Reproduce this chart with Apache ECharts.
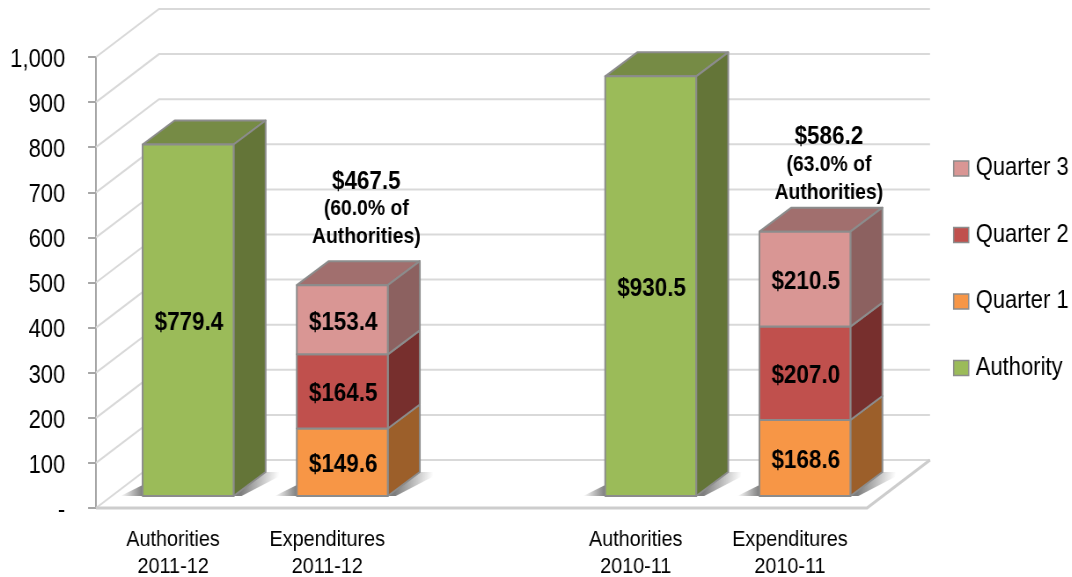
<!DOCTYPE html>
<html>
<head>
<meta charset="utf-8">
<style>
html, body { margin: 0; padding: 0; background: #fff; overflow: hidden; }
/* no narrow font here, so the whole chart is drawn wider and squeezed to 1072 */
#chart { width: 1218px; height: 577px; transform: scaleX(0.88); transform-origin: 0 0; }
</style>
<script src="https://cdn.jsdelivr.net/npm/echarts@6/dist/echarts.min.js"></script>
</head>
<body>
<div id="chart"></div>
<script>
// slot 2 is the empty gap between the two fiscal years
var categories = ['Authorities\n2011-12', 'Expenditures\n2011-12', '', 'Authorities\n2010-11', 'Expenditures\n2010-11'];
var yTicks = [0, 100, 200, 300, 400, 500, 600, 700, 800, 900, 1000];

var authority = [779.4, null, null, 930.5, null];
var quarter1 = [null, 149.6, null, null, 168.6];
var quarter2 = [null, 164.5, null, null, 207.0];
var quarter3 = [null, 153.4, null, null, 210.5];

var expenditureSlots = [1, 4];
var expenditureTotals = ['$467.5', '$586.2'];
var expenditureShares = ['(60.0% of', '(63.0% of'];
var totalLabelLift = [34, 25];

var SX = 0.88; // same squeeze as the css
var FONT = '"Liberation Sans", Arial, sans-serif';
var BAR_WIDTH = 91 / SX;
var WALL_DX = 63 / SX, WALL_DY = -48;   // front of the floor to the back wall
var BAR_DX = 15 / SX, BAR_DY = -12;     // front of the floor to the front of a bar
var DEPTH_DX = 32 / SX, DEPTH_DY = -24; // depth of a bar
var EDGE = '#8c8c8c';

function poly(points, fill, stroke, lineWidth) {
	return {
		type: 'polygon',
		shape: { points: points },
		style: { fill: fill, stroke: stroke || null, lineWidth: lineWidth || 0, lineJoin: 'round' }
	};
}

function fade(x, y, x2, y2) {
	return {
		type: 'linear', x: x, y: y, x2: x2, y2: y2,
		colorStops: [{ offset: 0, color: 'rgba(70,70,70,0.7)' }, { offset: 1, color: 'rgba(70,70,70,0)' }]
	};
}

function barSeries(name, values, bases, colors) {
	var rows = [];
	values.forEach(function (v, i) {
		if (v !== null) rows.push([i, bases[i], bases[i] + v]);
	});
	return {
		name: name,
		type: 'custom',
		coordinateSystem: 'cartesian2d',
		itemStyle: { color: colors.front },
		data: rows,
		encode: { x: 0, y: 2 },
		silent: true,
		z: 3,
		renderItem: function (params, api) {
			var cat = api.value(0);
			var low = api.coord([cat, api.value(1)]);
			var high = api.coord([cat, api.value(2)]);
			var x0 = low[0] - BAR_WIDTH / 2 + BAR_DX, x1 = x0 + BAR_WIDTH;
			var y0 = low[1] + BAR_DY, y1 = high[1] + BAR_DY;
			var amount = '$' + (api.value(2) - api.value(1)).toFixed(1);
			return {
				type: 'group',
				children: [
					poly([[x0, y1], [x1, y1], [x1 + DEPTH_DX, y1 + DEPTH_DY], [x0 + DEPTH_DX, y1 + DEPTH_DY]], colors.top, EDGE, 2),
					poly([[x1, y0], [x1 + DEPTH_DX, y0 + DEPTH_DY], [x1 + DEPTH_DX, y1 + DEPTH_DY], [x1, y1]], colors.side, EDGE, 2),
					poly([[x0, y0], [x1, y0], [x1, y1], [x0, y1]], colors.front, EDGE, 2),
					{
						type: 'text',
						style: {
							text: amount, x: (x0 + x1) / 2 + 1, y: (y0 + y1) / 2 + 3,
							align: 'center', verticalAlign: 'middle',
							font: 'bold 25.5px ' + FONT, fill: '#000'
						}
					}
				]
			};
		}
	};
}

var bases1 = [0, 0, 0, 0, 0];
var bases2 = quarter1.map(function (v) { return v || 0; });
var bases3 = quarter2.map(function (v, i) { return (v || 0) + bases2[i]; });

var wallSeries = {
	type: 'custom',
	coordinateSystem: 'cartesian2d',
	data: yTicks.map(function (t) { return [0, t]; }),
	encode: { x: 0, y: 1 },
	silent: true,
	z: 1,
	renderItem: function (params, api) {
		var cs = params.coordSys;
		var y = api.coord([0, api.value(1)])[1];
		var left = cs.x, right = cs.x + cs.width;
		var children = [{
			type: 'polyline',
			shape: { points: [[left, y], [left + WALL_DX, y + WALL_DY], [right + WALL_DX, y + WALL_DY]] },
			style: { fill: null, stroke: '#d9d9d9', lineWidth: 2 }
		}];
		if (api.value(1) === 0) {
			children.push({
				type: 'polyline',
				shape: { points: [[left, y], [right, y], [right + WALL_DX, y + WALL_DY]] },
				style: { fill: null, stroke: '#cdcdcd', lineWidth: 3 }
			});
		}
		return { type: 'group', children: children };
	}
};

// soft shadow on the floor, one wing each side of a bar
var shadowSeries = {
	type: 'custom',
	coordinateSystem: 'cartesian2d',
	data: [[0, 0], [1, 0], [3, 0], [4, 0]],
	encode: { x: 0, y: 1 },
	silent: true,
	z: 2,
	renderItem: function (params, api) {
		var p = api.coord([api.value(0), 0]);
		var x0 = p[0] - BAR_WIDTH / 2 + BAR_DX, x1 = x0 + BAR_WIDTH, y0 = p[1] + BAR_DY;
		var reach = 22 / SX;
		return {
			type: 'group',
			children: [
				poly([[x0 - reach, y0], [x0, y0], [x0, y0 - 11]], fade(1, 0, 0, 0)),
				poly([[x1, y0], [x1 + DEPTH_DX, y0 + DEPTH_DY], [x1 + DEPTH_DX + reach, y0 + DEPTH_DY], [x1 + 8 / SX, y0]], fade(0.15, 0.5, 0.8, 0.75))
			]
		};
	}
};

var totalSeries = {
	type: 'custom',
	coordinateSystem: 'cartesian2d',
	data: expenditureSlots.map(function (slot, i) {
		return [slot, quarter1[slot] + quarter2[slot] + quarter3[slot], i];
	}),
	encode: { x: 0, y: 1 },
	silent: true,
	z: 5,
	renderItem: function (params, api) {
		var i = api.value(2);
		var p = api.coord([api.value(0), api.value(1)]);
		return {
			type: 'text',
			style: {
				text: '{a|' + expenditureTotals[i] + '}\n{b|' + expenditureShares[i] + '}\n{b|Authorities)}',
				x: p[0] + BAR_DX + 24 / SX,
				y: p[1] + BAR_DY - totalLabelLift[i],
				align: 'center',
				verticalAlign: 'bottom',
				fill: '#000',
				rich: {
					a: { font: 'bold 25.5px ' + FONT, lineHeight: 27, align: 'center' },
					b: { font: 'bold 22px ' + FONT, lineHeight: 28, align: 'center' }
				}
			}
		};
	}
};

var chart = echarts.init(document.getElementById('chart'), null, { renderer: 'canvas' });
chart.setOption({
	animation: false,
	backgroundColor: '#ffffff',
	grid: { left: 96 / SX, width: 771 / SX, top: 57, bottom: 69, containLabel: false, outerBoundsMode: 'none' },
	legend: {
		orient: 'vertical',
		left: 953 / SX,
		top: 156,
		padding: 0,
		itemWidth: 15 / SX,
		itemHeight: 15,
		itemGap: 41.5,
		icon: 'rect',
		selectedMode: false,
		itemStyle: { borderColor: EDGE, borderWidth: 1.5 },
		textStyle: { fontFamily: FONT, fontSize: 25, color: '#000', padding: [0, 0, 0, 3] },
		data: ['Quarter 3', 'Quarter 2', 'Quarter 1', 'Authority']
	},
	xAxis: {
		type: 'category',
		data: categories,
		axisLine: { show: false },
		axisTick: { show: false },
		axisLabel: {
			interval: 0,
			margin: 18,
			fontFamily: FONT,
			fontSize: 22.5,
			lineHeight: 27,
			color: '#000'
		}
	},
	yAxis: {
		type: 'value',
		min: 0,
		max: 1000,
		interval: 100,
		splitLine: { show: false },
		axisLine: { show: true, lineStyle: { color: '#a6a6a6', width: 2 } },
		axisTick: { show: true, length: 9, lineStyle: { color: '#a6a6a6', width: 2 } },
		axisLabel: {
			margin: 35,
			verticalAlign: 'top',
			lineHeight: 6,
			fontFamily: FONT,
			fontSize: 25,
			color: '#000',
			formatter: function (v) {
				return v === 0 ? '-' : String(v).replace(/\B(?=(\d{3})+$)/g, ',');
			}
		}
	},
	series: [
		wallSeries,
		shadowSeries,
		barSeries('Authority', authority, bases1, { front: '#9bbb59', side: '#647538', top: '#768b45' }),
		barSeries('Quarter 1', quarter1, bases1, { front: '#f79646', side: '#9c5f2a', top: '#b9733a' }),
		barSeries('Quarter 2', quarter2, bases2, { front: '#c0504d', side: '#772f2d', top: '#8f3d3b' }),
		barSeries('Quarter 3', quarter3, bases3, { front: '#d99694', side: '#8c6160', top: '#a16f6e' }),
		totalSeries
	]
});
</script>
</body>
</html>
